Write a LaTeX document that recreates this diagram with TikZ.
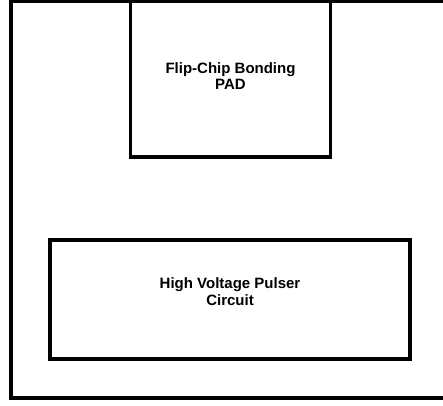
\documentclass[tikz,border=0pt]{standalone}
\usepackage{fontspec}
\setmainfont{Liberation Sans}
\usetikzlibrary{positioning}
\tikzset{
  blockbox/.style={draw, rectangle, line width=3.5pt, inner sep=0pt},
  blocklabel/.style={font=\fontsize{15}{16.5}\selectfont\bfseries, align=center}
}

\begin{document}
\begin{tikzpicture}[x=1pt, y=1pt]

        \useasboundingbox (0,0) rectangle (443,405);
        \clip (0,0) rectangle (443,405);

        % chip outline
        \coordinate (dieTR) at (460,404);
        \coordinate (dieTL) at (11,404);
        \coordinate (dieBL) at (11,7);
        \coordinate (dieBR) at (460,7);
        \draw[line width=4.5pt] (dieTR) -- (dieTL) -- (dieBL) -- (dieBR);

        % bonding pad
        \node[blockbox, minimum width=200pt, minimum height=156pt] (pad) at (230.5,326) {};
        \node[blocklabel] (padtext) at (230.5,329) {Flip-Chip Bonding\\PAD};

        % pulser circuit
        \node[blockbox, minimum width=360pt, minimum height=119pt] (pulser) at (230,105.5) {};
        \node[blocklabel] (pulsertext) at (230,113.5) {High Voltage Pulser\\Circuit};

    \end{tikzpicture}
\end{document}
